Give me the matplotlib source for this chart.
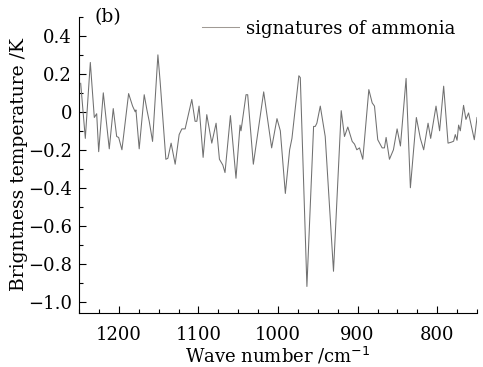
import numpy as np
import matplotlib
matplotlib.use("Agg")
import matplotlib.pyplot as plt
from matplotlib.ticker import MultipleLocator, FuncFormatter

# wave number (cm^-1) and brightness temperature (K)
wavenumber = [1247.9, 1242.1, 1235.8, 1230.8, 1227.8, 1225.3, 1219.5, 1212.0, 1207.0,
              1202.7, 1200.2, 1196.1, 1187.7, 1182.7, 1179.4, 1178.5, 1174.4, 1168.1,
              1164.7, 1161.8, 1157.6, 1150.9, 1148.1, 1140.9, 1138.4, 1134.3, 1129.2,
              1124.2, 1120.8, 1116.7, 1108.3, 1104.2, 1102.0, 1099.2, 1094.1, 1089.5,
              1083.2, 1077.8, 1073.6, 1069.4, 1066.6, 1059.8, 1052.8, 1047.7, 1046.5,
              1040.2, 1038.1, 1031.0, 1018.0, 1008.0, 1001.3, 997.1, 990.8, 985.4,
              982.5, 973.8, 972.0, 963.7, 955.3, 953.2, 951.2, 946.9, 940.7, 930.3,
              920.6, 916.5, 912.3, 906.8, 903.9, 901.0, 897.6, 893.5, 885.9, 881.7,
              878.8, 874.7, 869.2, 866.3, 864.2, 860.0, 855.0, 850.4, 846.2, 839.1,
              833.7, 826.2, 821.2, 817.0, 811.5, 808.2, 801.5, 797.0, 791.9, 786.4,
              782.3, 779.4, 777.3, 775.1, 773.1, 771.0, 766.9, 763.9, 760.6, 753.4,
              750.0]
temperature = [0.15, -0.14, 0.26, -0.03, -0.01, -0.21, 0.10, -0.195, 0.017,
               -0.13, -0.135, -0.20, 0.096, 0.03, 0.0, 0.01, -0.195, 0.09,
               0.01, -0.05, -0.156, 0.30, 0.16, -0.25, -0.245, -0.165, -0.276,
               -0.12, -0.09, -0.09, 0.065, -0.05, -0.05, 0.03, -0.24, -0.015,
               -0.165, -0.06, -0.25, -0.28, -0.32, -0.02, -0.35, -0.07, -0.10,
               0.09, 0.09, -0.276, 0.105, -0.19, -0.036, -0.10, -0.43, -0.2,
               -0.14, 0.19, 0.18, -0.92, -0.077, -0.077, -0.06, 0.03, -0.13, -0.84,
               0.006, -0.13, -0.08, -0.156, -0.17, -0.2, -0.19, -0.25, 0.117, 0.047,
               0.03, -0.147, -0.19, -0.19, -0.135, -0.25, -0.2, -0.09, -0.18, 0.176,
               -0.40, -0.03, -0.14, -0.2, -0.06, -0.14, 0.03, -0.10, 0.135, -0.165,
               -0.16, -0.155, -0.12, -0.15, -0.07, -0.10, 0.034, -0.04, -0.006, -0.147,
               -0.03]

plt.rcParams['font.family'] = ['DejaVu Serif']
plt.rcParams['axes.unicode_minus'] = True

fig = plt.figure(figsize=(4.83, 3.67), dpi=100)
ax = fig.add_axes([0.1636, 0.147, 0.824, 0.807])

ax.plot(wavenumber, temperature, color='#707070', lw=0.75, label='signatures of ammonia')

ax.set_xlim(1250, 750)
ax.set_ylim(-1.06, 0.5)
ax.spines['top'].set_visible(False)
ax.spines['right'].set_visible(False)

ax.xaxis.set_major_locator(MultipleLocator(100))
ax.xaxis.set_minor_locator(MultipleLocator(25))
ax.yaxis.set_major_locator(MultipleLocator(0.2))
ax.yaxis.set_minor_locator(MultipleLocator(0.1))

def yfmt(v, pos):
    if abs(v) < 1e-9:
        return '0'
    return ('%.1f' % v).replace('-', '\u2212')

ax.yaxis.set_major_formatter(FuncFormatter(yfmt))
ax.tick_params(which='both', direction='in', labelsize=13, width=0.8)
ax.tick_params(which='major', length=5)
ax.tick_params(which='minor', length=3)
ax.tick_params(axis='x', which='major', pad=9)
ax.tick_params(axis='y', which='major', pad=5)

ax.set_xlabel('Wave number /cm$^{-1}$', fontsize=13, labelpad=1)
ax.set_ylabel('Brigntness temperature /K', fontsize=13.5, labelpad=0)

ax.text(0.04, 1.0, '(b)', transform=ax.transAxes, fontsize=13.5, va='center')

leg = ax.legend(loc='center left', bbox_to_anchor=(0.31, 0.96), frameon=False,
                fontsize=13, handlelength=2.0, handletextpad=0.4,
                borderpad=0, borderaxespad=0)
leg.get_lines()[0].set_color('#a09a95')

fig.savefig('out.png', dpi=100)
